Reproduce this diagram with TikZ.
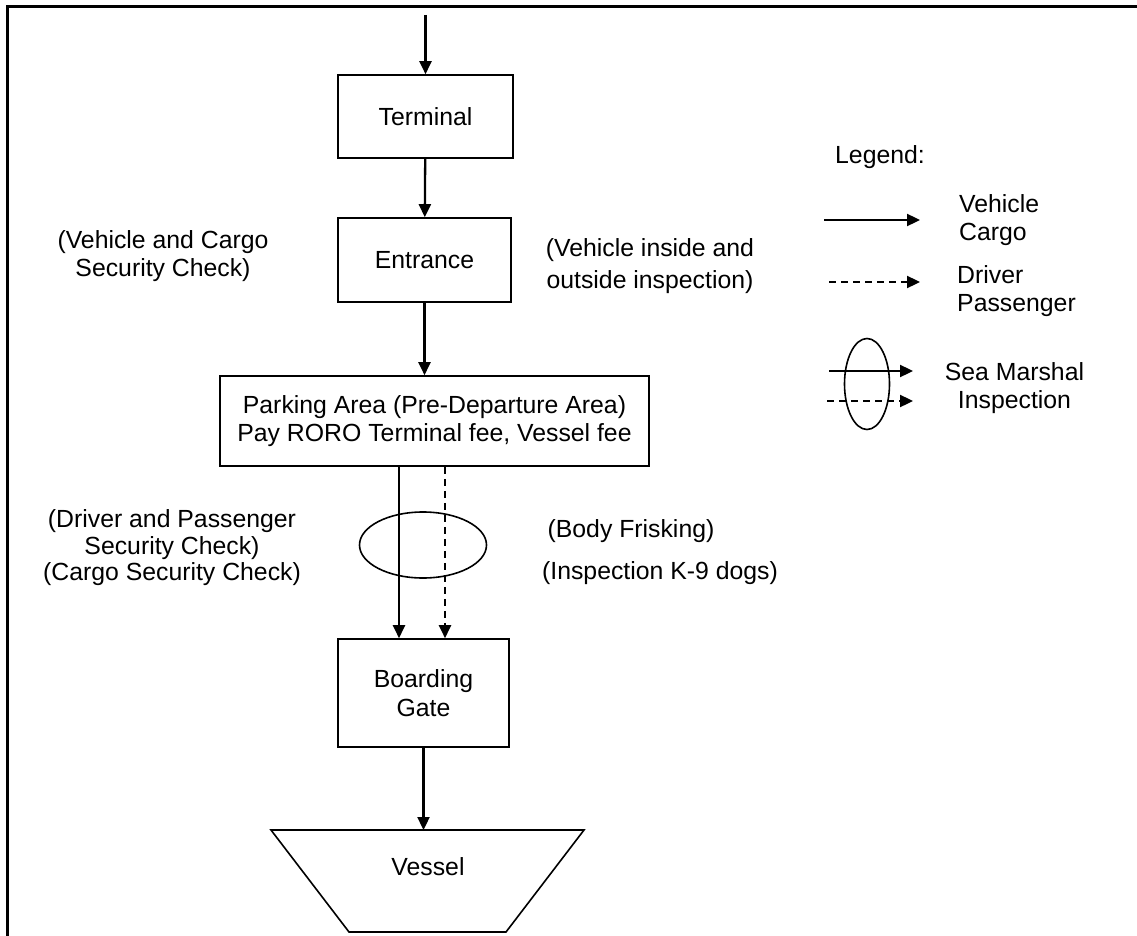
\documentclass[tikz,border=0pt]{standalone}
\usepackage{fontspec}
\setmainfont{Liberation Sans}
\usetikzlibrary{arrows.meta,shapes.geometric}
\begin{document}
\begin{tikzpicture}[x=1pt,y=-1pt,
  every node/.style={font=\fontsize{24.8}{28.5}\selectfont},
  box/.style={draw, line width=1.6pt, inner sep=0pt, align=center},
  txt/.style={inner sep=0pt, align=center},
  flow/.style={line width=2.3pt, -{Triangle[length=13pt,width=12pt]}},
  dflow/.style={flow, dash pattern=on 7pt off 5pt},
  ring/.style={draw, ellipse, line width=1.6pt, inner sep=0pt}]
\useasboundingbox (0,0) rectangle (1137,936);
\draw[line width=3pt] (7,936) -- (7,7) -- (1137,7);

% main flow
\coordinate (start) at (425.5,15);
\node[box, minimum width=175pt, minimum height=83pt] (terminal) at (425.5,116.5) {Terminal};
\node[box, minimum width=173pt, minimum height=84pt] (entrance) at (424.5,260) {Entrance};
\node[box, minimum width=429pt, minimum height=90pt] (parking) at (434.5,421) {Parking Area (Pre-Departure Area)\\Pay RORO Terminal fee, Vessel fee};
\node[box, minimum width=171pt, minimum height=108pt] (boarding) at (423.5,693) {Boarding\\Gate};
\node[txt] (vessel) at (428,867) {Vessel};
\draw[line width=1.6pt] (271,830) -- (584,830) -- (506,932) -- (349,932) -- cycle;
\coordinate (vtop) at (423.5,830);
\node[ring, minimum width=127pt, minimum height=66pt] (frisk) at (423,545) {};

\draw[flow] (start) -- (terminal.north);
\draw[flow] (terminal) -- (entrance);
\draw[flow] (entrance.south) -- (entrance.south |- parking.north);
\draw[flow] ([xshift=-35.5pt]parking.south) -- ([xshift=-24.5pt]boarding.north);
\draw[dflow] ([xshift=10.5pt]parking.south) -- ([xshift=21.5pt]boarding.north);
\draw[flow] (boarding) -- (vtop);

% annotations
\node[txt] (vc) at (163,256) {(Vehicle and Cargo\\Security Check)};
\node[txt, font=\fontsize{24.8}{32}\selectfont] (vio) at (650,266) {(Vehicle inside and\\outside inspection)};
\node[txt, font=\fontsize{24.8}{26.5}\selectfont] (dp) at (172,548) {(Driver and Passenger\\Security Check)\\(Cargo Security Check)};
\node[txt] (bf) at (631,531) {(Body Frisking)};
\node[txt] (k9) at (660,573) {(Inspection K-9 dogs)};

% legend
\node[txt] (legend) at (880,157) {Legend:};
\coordinate (l1a) at (824,220);
\coordinate (l1b) at (920,220);
\draw[flow] (l1a) -- (l1b);
\node[txt, anchor=west, align=left] (l1t) at (959,220) {Vehicle\\Cargo};
\coordinate (l2a) at (829,282);
\coordinate (l2b) at (920,282);
\draw[dflow] (l2a) -- (l2b);
\node[txt, anchor=west, align=left] (l2t) at (957,291) {Driver\\Passenger};
\node[ring, minimum width=45pt, minimum height=91pt] (lring) at (867,384) {};
\coordinate (l3a) at (829,371);
\coordinate (l3b) at (913,371);
\draw[flow] (l3a) -- (l3b);
\coordinate (l4a) at (827,401);
\coordinate (l4b) at (913,401);
\draw[dflow] (l4a) -- (l4b);
\node[txt] (l3t) at (1014.5,388) {Sea Marshal\\Inspection};
\end{tikzpicture}
\end{document}
